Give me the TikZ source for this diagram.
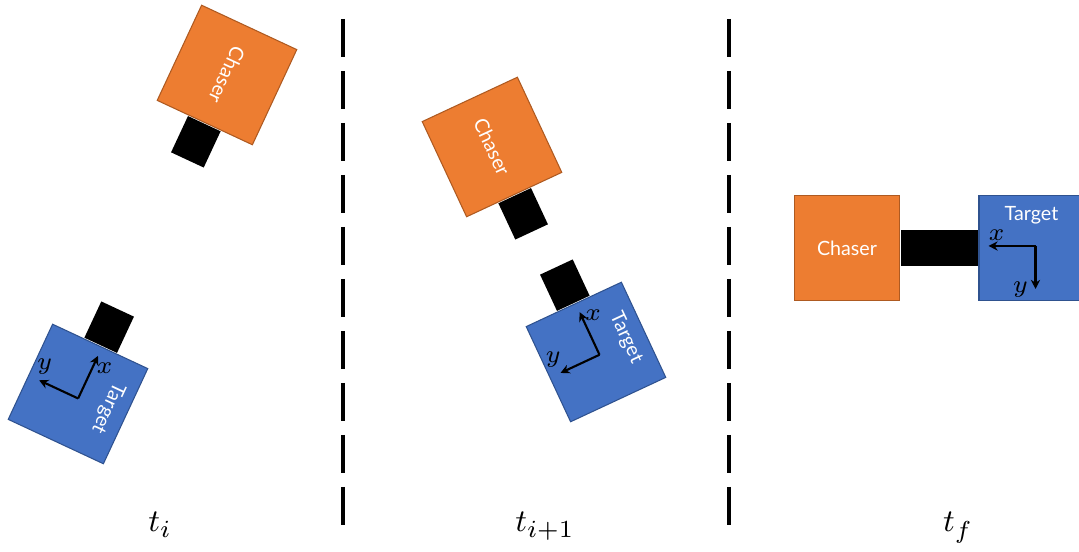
\documentclass[tikz,border=0pt]{standalone}
\usepackage{fontspec}
\setsansfont{Lato}
\usetikzlibrary{arrows.meta,positioning}
\definecolor{chaserorange}{HTML}{ED7D31}
\definecolor{chaseredge}{HTML}{AE5A21}
\definecolor{targetblue}{HTML}{4472C4}
\definecolor{targetedge}{HTML}{2F528F}

\begin{document}
\begin{tikzpicture}[chaser/.style={draw=chaseredge, fill=chaserorange, line width=0.3pt, minimum size=1.05cm, inner sep=0pt}, target/.style={draw=targetedge, fill=targetblue, line width=0.3pt, minimum size=1.05cm, inner sep=0pt}, port/.style={fill=black, minimum width=0.36cm, minimum height=0.40cm, inner sep=0pt}, tag/.style={text=white, font=\sffamily\fontsize{5.6}{7}\selectfont, inner sep=0pt}, axis/.style={-{Stealth[length=2.6pt,width=2.6pt]}, line width=0.6pt}, axlabel/.style={font=\fontsize{7}{8}\selectfont, inner sep=0pt}, divider/.style={line width=1.4pt, dash pattern=on 0.38cm off 0.14cm}, stamp/.style={font=\fontsize{9.5}{11}\selectfont, anchor=base}]
\clip (0,0) rectangle (10.79,5.52);

% first instant
\begin{scope}[shift={(2.27,4.77)}, rotate=-25]
\node[chaser, rotate=-25] (ch1) at (0,0) {};
\node[port, rotate=-25, below=0pt of ch1] (cp1) {};
\node[tag, rotate=-115] at (0,0) {Chaser};
\end{scope}
\begin{scope}[shift={(0.78,1.58)}, rotate=-25]
\node[target, rotate=-25] (tg1) at (0,0) {};
\node[port, rotate=-25, above=0pt of tg1] (tp1) {};
\node[tag, rotate=-115] at (0.33,0) {Target};
\coordinate (o1) at (0.02,-0.04);
\coordinate (x1) at (0.02,0.43);
\coordinate (y1) at (-0.41,-0.04);
\draw[axis] (o1)--(x1);
\draw[axis] (o1)--(y1);
\node[axlabel] at (0.13,0.35) {$x$};
\node[axlabel] at (-0.42,0.11) {$y$};
\end{scope}

% second instant
\begin{scope}[shift={(4.92,4.05)}, rotate=25]
\node[chaser, rotate=25] (ch2) at (0,0) {};
\node[port, rotate=25, below=0pt of ch2] (cp2) {};
\node[tag, rotate=-65] at (0,0) {Chaser};
\end{scope}
\begin{scope}[shift={(5.96,2.00)}, rotate=25]
\node[target, rotate=25] (tg2) at (0,0) {};
\node[port, rotate=25, above=0pt of tg2] (tp2) {};
\node[tag, rotate=-65] at (0.33,0) {Target};
\coordinate (o2) at (0.02,-0.04);
\coordinate (x2) at (0.02,0.43);
\coordinate (y2) at (-0.41,-0.04);
\draw[axis] (o2)--(x2);
\draw[axis] (o2)--(y2);
\node[axlabel] at (0.13,0.35) {$x$};
\node[axlabel] at (-0.42,0.11) {$y$};
\end{scope}

% docked
\begin{scope}[shift={(8.47,3.04)}, rotate=90]
\node[chaser, rotate=90] (ch3) at (0,0) {};
\node[port, rotate=90, below=0pt of ch3] (cp3) {};
\node[tag] at (0,0) {Chaser};
\end{scope}
\begin{scope}[shift={(10.315,3.04)}, rotate=90]
\node[target, rotate=90] (tg3) at (0,0) {};
\node[port, rotate=90, above=0pt of tg3] (tp3) {};
\node[tag] at (0.33,0) {Target};
\coordinate (o3) at (0.02,-0.04);
\coordinate (x3) at (0.02,0.43);
\coordinate (y3) at (-0.41,-0.04);
\draw[axis] (o3)--(x3);
\draw[axis] (o3)--(y3);
\node[axlabel] at (0.13,0.35) {$x$};
\node[axlabel] at (-0.42,0.11) {$y$};
\end{scope}

% dividers
\coordinate (d1top) at (3.43,5.33);
\coordinate (d1bot) at (3.43,0.25);
\coordinate (d2top) at (7.29,5.33);
\coordinate (d2bot) at (7.29,0.25);
\draw[divider] (d1top)--(d1bot);
\draw[divider] (d2top)--(d2bot);

\node[stamp] (ti) at (1.60,0.20) {$t_i$};
\node[stamp] (tnext) at (5.45,0.20) {$t_{i+1}$};
\node[stamp] (tf) at (9.58,0.20) {$t_f$};
\end{tikzpicture}
\end{document}
